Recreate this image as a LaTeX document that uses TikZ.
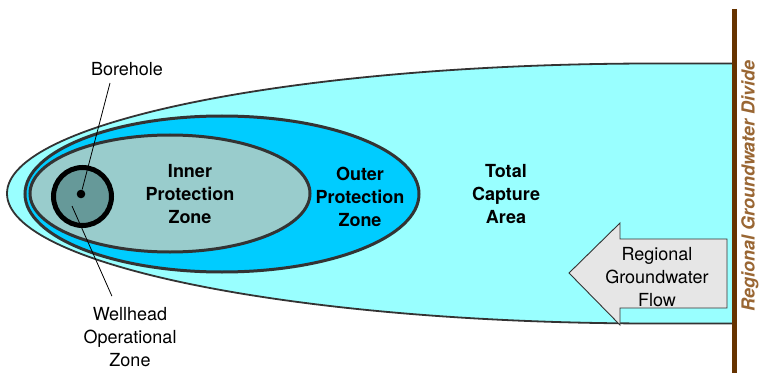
\documentclass[tikz,border=0pt]{standalone}
\usepackage{fontspec}
\setmainfont{TeX Gyre Heros}
\usepackage{tikz}
\definecolor{capture_cyan}{HTML}{99FFFF}
\definecolor{outer_blue}{HTML}{00CCFF}
\definecolor{inner_teal}{HTML}{99CCCC}
\definecolor{well_teal}{HTML}{669999}
\definecolor{edge_gray}{HTML}{333333}
\definecolor{flow_gray}{HTML}{E6E6E6}
\definecolor{divide_brown}{HTML}{663300}
\definecolor{divide_text}{HTML}{996633}

\begin{document}
\begin{tikzpicture}[x=1pt, y=-1pt,
  every node/.style={font=\fontsize{18}{23}\selectfont, align=center, inner sep=0pt},
  zonelabel/.style={font=\fontsize{18}{23}\selectfont\bfseries},
  zoneline/.style={draw=edge_gray, line width=3pt}]

  \useasboundingbox (0,0) rectangle (759,374);

  % Total capture area: half ellipse that runs flat into the divide
  \path[fill=capture_cyan, draw=edge_gray, line width=1.8pt] (735,63.5) -- (655,63.5)
  arc[start angle=270, end angle=90, x radius=648, y radius=130] -- (735,323.5);

  \draw[zoneline, fill=outer_blue] (222,194) ellipse [x radius=197, y radius=78];
  \draw[zoneline, fill=inner_teal] (170,193.5) ellipse [x radius=140, y radius=58.5];

  % wellhead zone and borehole
  \node[circle, draw=black, line width=5pt, fill=well_teal, minimum size=58pt] (well) at (82.5,196.5) {};
  \node[circle, fill=black, minimum size=8.6pt] (bore) at (81,194) {};

  \node[zonelabel] (inner) at (190,194) {Inner\\Protection\\Zone};
  \node[zonelabel] (outer) at (360,197) {Outer\\Protection\\Zone};
  \node[zonelabel] (total) at (506,194) {Total\\Capture\\Area};

  \node (bore_lbl) at (127,69) {Borehole};
  \node (well_lbl) at (130,337) {Wellhead\\Operational\\Zone};
  \coordinate (bore_pt) at (110,83);
  \coordinate (well_pt) at (72,206);
  \draw[black, line width=0.8pt] (bore_pt) -- (bore);
  \draw[black, line width=0.8pt, shorten >=12pt] (well_pt) -- (well_lbl);

  % regional flow arrow
  \draw[edge_gray, line width=0.9pt, fill=flow_gray] (569,273) -- (620,223) -- (620,239) -- (727,239)
  -- (727,308) -- (620,308) -- (620,325) -- cycle;
  \node (flow) at (657,277) {Regional\\Groundwater\\Flow};

  % groundwater divide
  \draw[divide_brown, line width=4.5pt] (734.5,9) -- (734.5,373);
  \node[rotate=90, text=divide_text, font=\fontsize{18}{23}\selectfont\bfseries\itshape] (divide) at (750,186)
  {Regional Groundwater Divide};

\end{tikzpicture}
\end{document}
